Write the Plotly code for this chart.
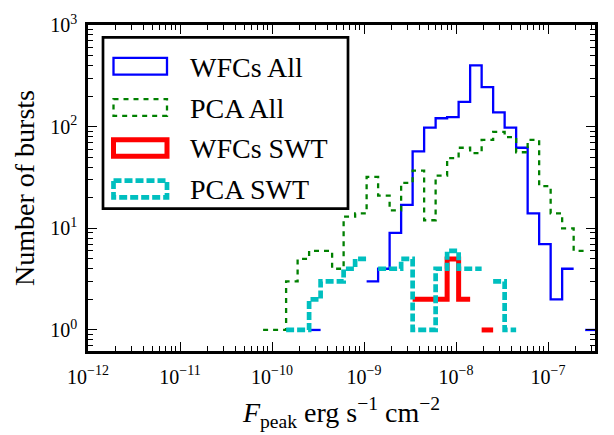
import plotly.graph_objects as go

# Log10 bin edges of the flux histogram (erg s^-1 cm^-2)
bin_edges_log = [-10.097, -9.972, -9.847, -9.722, -9.597, -9.472, -9.347, -9.222,
                 -9.097, -8.972, -8.847, -8.722, -8.597, -8.472, -8.347, -8.222,
                 -8.097, -7.972, -7.847, -7.722, -7.597, -7.472, -7.347, -7.222,
                 -7.097, -6.972, -6.847, -6.722, -6.597, -6.472]

wfcs_all = [0, 0, 0, 0, 1, 0, 0, 0, 0, 3, 4, 9, 17, 57, 98, 121, 124, 175, 400,
            245, 138, 98, 62, 14, 7, 2, 4, 0, 1]
pca_all = [1, 1, 3, 5, 6, 6, 4, 13, 14, 32, 21, 15, 28, 37, 12, 33, 49, 62, 55,
           74, 89, 79, 56, 74, 26, 14, 10, 6, 0]
wfcs_swt = [0, 0, 0, 0, 0, 0, 0, 0, 0, 0, 0, 0, 0, 2, 2, 2, 5, 2, 0, 1, 0, 0, 0,
            0, 0, 0, 0, 0, 0]
pca_swt = [0, 0, 1, 1, 2, 3, 3, 4, 5, 0, 4, 4, 5, 1, 1, 4, 6, 4, 4, 0, 3, 1, 0,
           0, 0, 0, 0, 0, 0]

series_names = ["WFCs All", "PCA All", "WFCs SWT", "PCA SWT"]
series_counts = [wfcs_all, pca_all, wfcs_swt, pca_swt]
series_colors = ["#0000FF", "#008000", "#FF0000", "#00BFBF"]
series_widths = [2.3, 2.3, 5, 4.7]
series_dash = ["solid", "5px,5px", "solid", "8px,3px"]

x_tick_exp = [-12, -11, -10, -9, -8, -7]
y_tick_exp = [0, 1, 2, 3]

FONT = "Liberation Serif"


def step_xy(edges_log, counts):
    xs, ys = [], []
    prev = 0
    for i, c in enumerate(counts):
        if c > 0:
            if prev == 0 and xs:
                xs.append(None)
                ys.append(None)
            xs += [10 ** edges_log[i], 10 ** edges_log[i + 1]]
            ys += [c, c]
        prev = c
    return xs, ys


fig = go.Figure()
for name, cnt, col, w, d in zip(series_names, series_counts, series_colors,
                                series_widths, series_dash):
    xs, ys = step_xy(bin_edges_log, cnt)
    fig.add_trace(go.Scatter(x=xs, y=ys, mode="lines", name=name,
                             line=dict(color=col, width=w, dash=d),
                             connectgaps=False, showlegend=False,
                             hoverinfo="skip"))

x_minor = [m * 10.0 ** e for e in range(-12, -6) for m in range(2, 10)]
y_minor = [0.7, 0.8, 0.9] + [m * 10.0 ** e for e in range(0, 3) for m in range(2, 10)]

axis_common = dict(type="log", showline=True, linecolor="black", linewidth=2.5,
                   mirror="ticks", ticks="inside", ticklen=9, tickwidth=1.3,
                   tickcolor="black", showgrid=False, zeroline=False,
                   tickfont=dict(family=FONT, size=20, color="black"))

fig.update_xaxes(**axis_common, range=[-12, -6.49], ticklabelstandoff=6,
                 tickvals=[10.0 ** e for e in x_tick_exp],
                 ticktext=["10<sup>\u2212%d</sup>" % (-e) for e in x_tick_exp],
                 minor=dict(tickmode="array", tickvals=x_minor, ticks="inside",
                            ticklen=5, tickwidth=1, tickcolor="black", showgrid=False),
                 title=dict(text="<i>F</i><sub>peak</sub> erg s<sup>\u22121</sup> cm<sup>\u22122</sup>",
                            font=dict(family=FONT, size=28, color="black"), standoff=16))
fig.update_yaxes(**axis_common, range=[-0.207, 3.0], ticklabelstandoff=4,
                 tickvals=[10.0 ** e for e in y_tick_exp],
                 ticktext=["10<sup>%d</sup>" % e for e in y_tick_exp],
                 minor=dict(tickmode="array", tickvals=y_minor, ticks="inside",
                            ticklen=5, tickwidth=1, tickcolor="black", showgrid=False),
                 title=dict(text="Number of bursts",
                            font=dict(family=FONT, size=28, color="black"), standoff=8))

# Manual legend (paper coordinates derived from pixel layout of plot area)
L, T, W, H = 88, 12, 507, 340


def px(x):
    return (x - L) / W


def py(y):
    return (T + H - y) / H


shapes = [dict(type="rect", xref="paper", yref="paper",
               x0=px(103), x1=px(348), y0=py(25), y1=py(203.5),
               line=dict(color="black", width=2.7), fillcolor="white", layer="above")]
row_y = [55, 98, 140.3, 183]
annotations = []
for name, col, w, d, ry in zip(series_names, series_colors, series_widths,
                               series_dash, row_y):
    shapes.append(dict(type="rect", xref="paper", yref="paper",
                       x0=px(113.5), x1=px(167), y0=py(ry - 8.7), y1=py(ry + 8.7),
                       line=dict(color=col, width=w, dash=d), layer="above"))
    annotations.append(dict(xref="paper", yref="paper", x=px(188), y=py(ry + 1),
                            text=name, showarrow=False, xanchor="left",
                            yanchor="middle",
                            font=dict(family=FONT, size=28, color="black")))

fig.update_layout(width=614, height=435,
                  margin=dict(l=L, r=614 - L - W, t=T, b=435 - T - H),
                  paper_bgcolor="white", plot_bgcolor="white",
                  shapes=shapes, annotations=annotations, showlegend=False)

fig.write_html("out.html")
